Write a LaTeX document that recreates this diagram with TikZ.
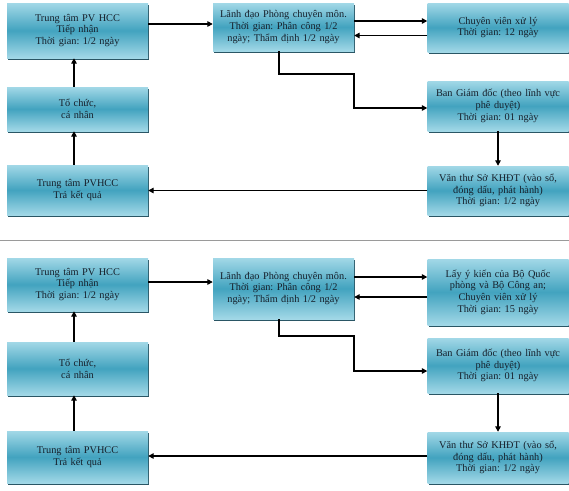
\documentclass[tikz,border=0pt]{standalone}
\usepackage{fontspec}
\setmainfont{Liberation Serif}
\frenchspacing
\usetikzlibrary{arrows.meta,calc,positioning,shadows}
\definecolor{PaleTeal}{HTML}{A2D8E7}
\definecolor{DeepTeal}{HTML}{42A3BF}
\definecolor{EdgeTeal}{HTML}{2A5665}
\definecolor{InkNavy}{HTML}{16202B}
\definecolor{RuleGray}{HTML}{9A9A9A}

\begin{document}
\begin{tikzpicture}[x=1pt,y=-1pt,
    box/.style={top color=PaleTeal,bottom color=PaleTeal,middle color=DeepTeal,
                text width=137pt,inner sep=2pt,align=center,text=InkNavy,
                font=\fontsize{10.3}{11.7}\selectfont,
                drop shadow={shadow xshift=1pt,shadow yshift=-2.2pt,fill=EdgeTeal,opacity=1}},
    arr/.style={-{Triangle[length=5.5pt,width=5.5pt]},line width=1.5pt}]
    \useasboundingbox (0,0) rectangle (569,490);
    % upper procedure
    \node[box,minimum height=55pt] (recv) at (77.5,30.5) {Trung tâm PV HCC\\Tiếp nhận\\Thời gian: 1/2 ngày};
    \node[box,minimum height=44pt] (org) at (77.5,109) {Tổ chức,\\cá nhân};
    \node[box,minimum height=50pt] (ret) at (77.5,190) {Trung tâm PVHCC\\Trả kết quả};
    \node[box,minimum height=48pt] (lead) at (283.5,27) {Lãnh đạo Phòng chuyên môn.\\*Thời gian: Phân công 1/2\\ngày; Thẩm định 1/2 ngày};
    \node[box,minimum height=49pt] (staff) at (498,27.5) {Chuyên viên xử lý\\Thời gian: 12 ngày};
    \node[box,minimum height=50pt] (board) at (498,106) {Ban Giám đốc (theo lĩnh vực\\phê duyệt)\\Thời gian: 01 ngày};
    \node[box,minimum height=49pt] (clerk) at (498,190.5) {Văn thư Sở KHĐT (vào sổ,\\đóng dấu, phát hành)\\Thời gian: 1/2 ngày};
    \draw[arr] ([yshift=6.5pt]recv.east) -- ([yshift=6.5pt]recv.east -| lead.west);
    \draw[arr] ([yshift=6pt]lead.east) -- ([yshift=6pt]lead.east -| staff.west);
    \draw[arr] ([yshift=-8pt]staff.west) -- ([yshift=-8pt]staff.west -| lead.east);
    \draw[arr] ([xshift=-4.5pt]lead.south) |- (354,74) |- ([yshift=-2pt]board.west);
    \draw[arr] (board.south) -- (clerk.north);
    \draw[arr] (clerk.west) -- (clerk.west -| ret.east);
    \draw[arr] ([xshift=-3.5pt]ret.north) -- ([xshift=-3.5pt]org.south);
    \draw[arr] ([xshift=-3.5pt]org.north) -- ([xshift=-3.5pt]recv.south);
    \draw[RuleGray,line width=1pt] (0,240) -- (569,240);
    % lower procedure
    \node[box,minimum height=53pt] (recv2) at (77.5,284.5) {Trung tâm PV HCC\\Tiếp nhận\\Thời gian: 1/2 ngày};
    \node[box,minimum height=53pt] (org2) at (77.5,368.5) {Tổ chức,\\cá nhân};
    \node[box,minimum height=52pt] (ret2) at (77.5,457) {Trung tâm PVHCC\\Trả kết quả};
    \node[box,minimum height=61pt] (lead2) at (283.5,288.5) {Lãnh đạo Phòng chuyên môn.\\*Thời gian: Phân công 1/2\\ngày; Thẩm định 1/2 ngày};
    \node[box,minimum height=66pt] (staff2) at (498,292) {Lấy ý kiến của Bộ Quốc\\phòng và Bộ Công an;\\Chuyên viên xử lý\\Thời gian: 15 ngày};
    \node[box,minimum height=55pt] (board2) at (498,365.5) {Ban Giám đốc (theo lĩnh vực\\phê duyệt)\\Thời gian: 01 ngày};
    \node[box,minimum height=51pt] (clerk2) at (498,457.5) {Văn thư Sở KHĐT (vào sổ,\\đóng dấu, phát hành)\\Thời gian: 1/2 ngày};
    \draw[arr] ([yshift=2.5pt]recv2.east) -- ([yshift=2.5pt]recv2.east -| lead2.west);
    \draw[arr] ([yshift=11.5pt]lead2.east) -- ([yshift=11.5pt]lead2.east -| staff2.west);
    \draw[arr] ([yshift=-8.5pt]lead2.east -| staff2.west) -- ([yshift=-8.5pt]lead2.east);
    \draw[arr] ([xshift=-4.5pt]lead2.south) |- (354,336) |- ([yshift=-5.5pt]board2.west);
    \draw[arr] (board2.south) -- (clerk2.north);
    \draw[arr] ([yshift=1.5pt]clerk2.west) -- ([yshift=1.5pt]clerk2.west -| ret2.east);
    \draw[arr] ([xshift=-3.5pt]ret2.north) -- ([xshift=-3.5pt]org2.south);
    \draw[arr] ([xshift=-3.5pt]org2.north) -- ([xshift=-3.5pt]recv2.south);
  \end{tikzpicture}
\end{document}
